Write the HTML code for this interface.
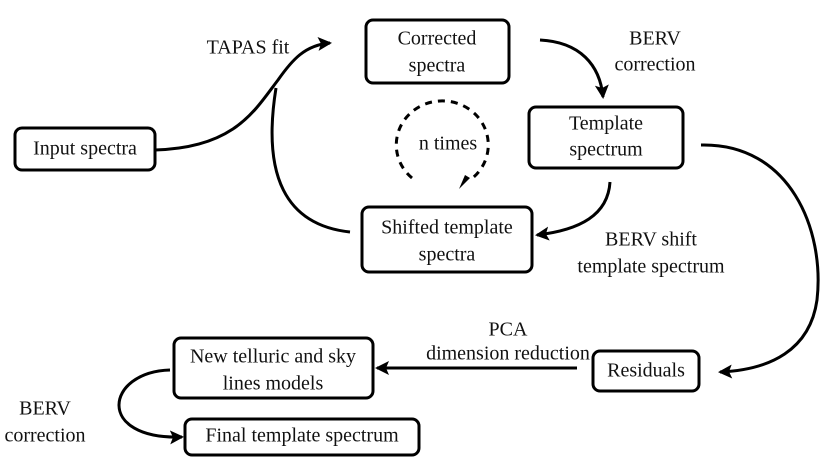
<!DOCTYPE html>
<html><head><style>body{margin:0;background:#fff}svg{display:block}text{font-family:"Liberation Serif","DejaVu Serif",serif;font-size:20px;fill:#111;text-anchor:middle;dominant-baseline:middle}</style></head><body>
<svg width="830" height="467" viewBox="0 0 830 467" font-family="Liberation Serif, DejaVu Serif, serif">
<defs>
<marker id="b" markerWidth="14" markerHeight="14" refX="12" refY="7" orient="auto" markerUnits="userSpaceOnUse" viewBox="0 0 14 14"><path d="M0,0 L14,7 L0,14 L3,7 Z" fill="#000"/></marker></defs>
<g fill="none" stroke="#000" stroke-width="3">
<rect x="15" y="128" width="140" height="42" rx="7"/>
<rect x="366" y="20" width="143" height="63" rx="7"/>
<rect x="529" y="107" width="154" height="61" rx="7"/>
<rect x="362" y="207" width="170" height="65" rx="7"/>
<rect x="593" y="351" width="106" height="40" rx="7"/>
<rect x="174" y="338" width="199" height="60" rx="7"/>
<rect x="185" y="419" width="234" height="36" rx="7"/>
<path d="M155,150 C235,148 255,110 278,80 C292,60 305,45 330,43" marker-end="url(#b)"/>
<path d="M350,232 C285,225 262,175 276,88"/>
<path d="M540,40 C580,42 600,65 603,97" marker-end="url(#b)"/>
<path d="M610,182 C608,215 580,230 537,235" marker-end="url(#b)"/>
<path d="M701,145 C790,143 825,230 817,300 C810,350 770,370 720,372" marker-end="url(#b)"/>
<path d="M577,368 L377,368" marker-end="url(#b)"/>
<path d="M170,370 C105,372 95,440 182,437" marker-end="url(#b)"/>
<path d="M412,178 A46,44 0 1 1 470,180" stroke-dasharray="7,6" stroke-width="3"/>
</g>
<path d="M470,178 L459,189 L465,175 Z" fill="#000"/>
<text x="85" y="150">Input spectra</text>
<text x="437" y="40">Corrected</text><text x="437" y="67">spectra</text>
<text x="606" y="125">Template</text><text x="606" y="151">spectrum</text>
<text x="447" y="229">Shifted template</text><text x="447" y="256">spectra</text>
<text x="646" y="372">Residuals</text>
<text x="273" y="358">New telluric and sky</text><text x="273" y="385">lines models</text>
<text x="302" y="437">Final template spectrum</text>
<text x="248" y="49">TAPAS fit</text>
<text x="655" y="40">BERV</text><text x="655" y="66">correction</text>
<text x="448" y="145">n times</text>
<text x="651" y="241">BERV shift</text><text x="651" y="268">template spectrum</text>
<text x="508" y="331">PCA</text><text x="508" y="355">dimension reduction</text>
<text x="45" y="410">BERV</text><text x="45" y="437">correction</text>
</svg></body></html>
